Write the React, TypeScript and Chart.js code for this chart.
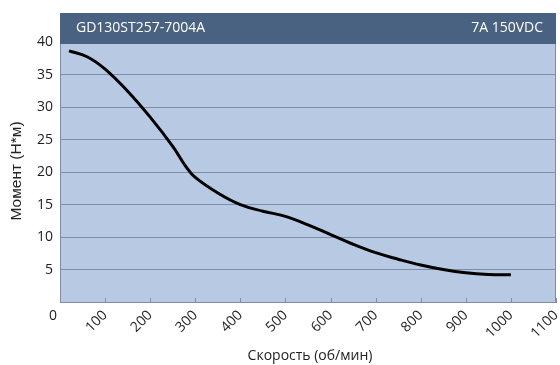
import React, { useEffect, useRef } from "react";
import { Chart, registerables } from "chart.js";

Chart.register(...registerables);

const speed = [20, 60, 100, 150, 200, 250, 280, 300, 350, 400, 450, 500, 550, 600, 650, 700, 750, 800, 850, 900, 950, 1000];
const torque = [38.7, 37.8, 35.9, 32.5, 28.5, 24.0, 20.8, 19.2, 16.8, 15.0, 14.0, 13.2, 11.9, 10.4, 8.9, 7.6, 6.6, 5.7, 5.0, 4.5, 4.25, 4.2];
const headerLeft = "GD130ST257-7004A";
const headerRight = "7A 150VDC";
const xTitle = "Скорость (об/мин)";
const yTitle = "Момент (Н*м)";

const FONT = "'Open Sans', 'Noto Sans', sans-serif";

const decorPlugin = {
  id: "decor",
  beforeDraw(chart: any) {
    const { ctx, chartArea } = chart;
    ctx.save();
    ctx.fillStyle = "#b8c9e3";
    ctx.fillRect(chartArea.left, chartArea.top, chartArea.right - chartArea.left, chartArea.bottom - chartArea.top);
    ctx.restore();
  },
  afterDraw(chart: any) {
    const { ctx, chartArea, scales } = chart;
    const x = scales.x;
    ctx.save();
    ctx.strokeStyle = "#7f8ea6";
    ctx.lineWidth = 1;
    for (let v = 100; v <= 1100; v += 100) {
      const px = Math.round(x.getPixelForValue(v)) + 0.5;
      ctx.beginPath();
      ctx.moveTo(px, chartArea.bottom - 4);
      ctx.lineTo(px, chartArea.bottom);
      ctx.stroke();
    }
    ctx.beginPath();
    ctx.moveTo(Math.round(chartArea.right) - 0.5, chartArea.top);
    ctx.lineTo(Math.round(chartArea.right) - 0.5, chartArea.bottom);
    ctx.stroke();
    // header
    ctx.fillStyle = "#4a6282";
    ctx.fillRect(chartArea.left, 13, chartArea.right - chartArea.left, 31);
    ctx.fillStyle = "#ffffff";
    ctx.font = `14px ${FONT}`;
    ctx.textBaseline = "middle";
    ctx.textAlign = "left";
    ctx.fillText(headerLeft, chartArea.left + 16, 28.5);
    ctx.textAlign = "right";
    ctx.fillText(headerRight, chartArea.right - 13, 28.5);
    // zero label
    ctx.fillStyle = "#222222";
    ctx.font = `14px ${FONT}`;
    ctx.textAlign = "center";
    ctx.fillText("0", 53, 316);
    // axis titles
    ctx.font = `14px ${FONT}`;
    ctx.fillText(xTitle, 310, 356);
    ctx.font = `15.5px 'Liberation Sans', Arial, sans-serif`;
    ctx.translate(17, 171);
    ctx.rotate(-Math.PI / 2);
    ctx.fillText(yTitle, 0, 0);
    ctx.restore();
  },
};

export default function App() {
  const ref = useRef<HTMLCanvasElement>(null);
  useEffect(() => {
    const chart = new Chart(ref.current!, {
      type: "line",
      data: {
        datasets: [
          {
            data: speed.map((s, i) => ({ x: s, y: torque[i] })),
            borderColor: "#000000",
            borderWidth: 3,
            pointRadius: 0,
            tension: 0.4,
            fill: false,
          },
        ],
      },
      options: {
        animation: false,
        responsive: false,
        maintainAspectRatio: false,
        layout: { padding: { top: 42.5, right: 4, left: 0, bottom: 0 } },
        plugins: { legend: { display: false }, tooltip: { enabled: false } },
        scales: {
          x: {
            type: "linear",
            min: 0,
            max: 1100,
            grid: { display: false },
            border: { display: true, color: "#7f8ea6", width: 1 },
            afterFit: (s: any) => {
              s.height = 63;
              s.paddingLeft = 0;
              s.paddingRight = 0;
            },
            ticks: {
              stepSize: 100,
              minRotation: 45,
              maxRotation: 45,
              padding: -3,
              color: "#222222",
              font: { family: FONT, size: 14 },
              callback: (v: any) => (v === 0 ? "" : String(v)),
            },
          },
          y: {
            min: 0,
            max: 40,
            grid: { color: "#7f8ea6", drawTicks: false, lineWidth: 1 },
            border: { display: true, color: "#7f8ea6", width: 1 },
            afterFit: (s: any) => {
              s.width = 60;
              s.paddingTop = 0;
              s.paddingBottom = 0;
            },
            ticks: {
              stepSize: 5,
              padding: 7,
              color: "#222222",
              font: { family: FONT, size: 14 },
              callback: (v: any) => (v === 0 ? "" : String(v)),
            },
          },
        },
      },
      plugins: [decorPlugin],
    } as any);
    return () => chart.destroy();
  }, []);
  return (
    <div style={{ position: "fixed", left: 0, top: 0, width: 560, height: 365, background: "#fff" }}>
      <canvas ref={ref} width={560} height={365} style={{ width: 560, height: 365 }} />
    </div>
  );
}
